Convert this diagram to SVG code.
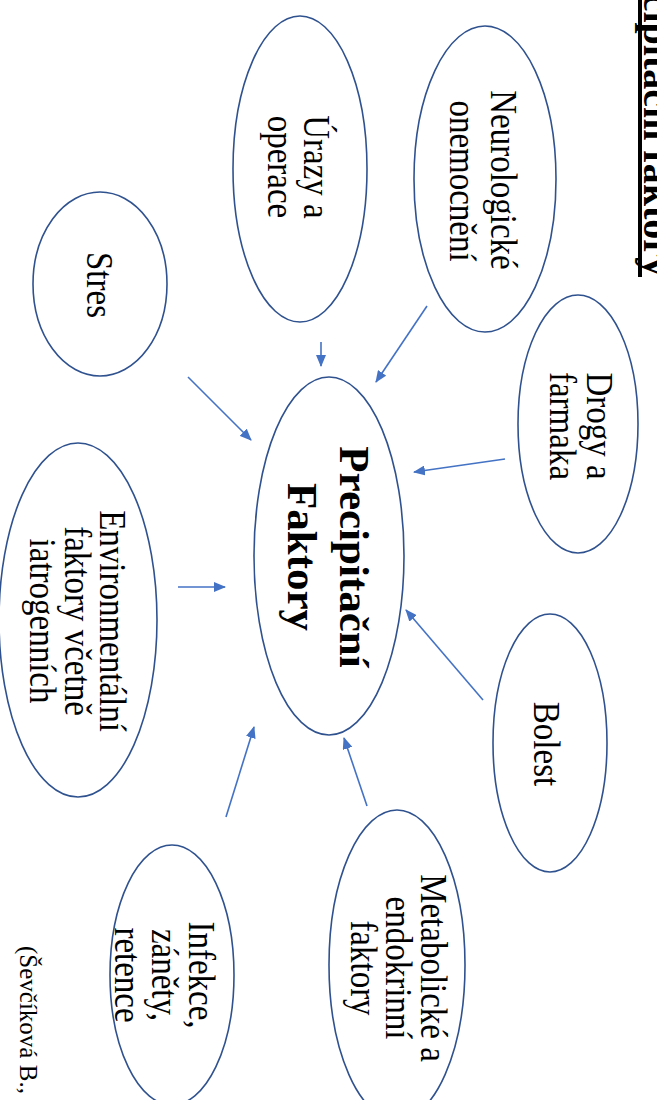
<svg xmlns="http://www.w3.org/2000/svg" width="657" height="1100" viewBox="0 0 657 1100">
<style>
.n{fill:#fff;stroke:#2F528F;stroke-width:1.6}
.t{font-family:"Liberation Serif","Times New Roman",serif;font-size:33px;fill:#000;text-anchor:middle}
.b{font-family:"Liberation Serif","Times New Roman",serif;font-size:43px;font-weight:bold;fill:#000;text-anchor:middle}
.c{stroke:#4472C4;stroke-width:1.6;fill:none;marker-end:url(#ah)}
</style>
<defs>
<marker id="ah" markerUnits="userSpaceOnUse" markerWidth="12" markerHeight="10" refX="11" refY="5" orient="auto">
<path d="M0,0 L12,5 L0,10 Z" fill="#4472C4"/>
</marker>
</defs>
<rect width="657" height="1100" fill="#fff"/>
<g id="title">
<text transform="translate(644,277) rotate(90)" font-family="Liberation Serif, serif" font-size="40" font-weight="bold" text-anchor="end">Precipitační faktory</text>
<rect x="638" y="0" width="4" height="277" fill="#000"/>
</g>
<g id="connectors">
<line class="c" x1="427" y1="306" x2="376" y2="382"/>
<line class="c" x1="321" y1="342" x2="321" y2="366"/>
<line class="c" x1="188" y1="377" x2="251" y2="440"/>
<line class="c" x1="505" y1="459" x2="414" y2="472"/>
<line class="c" x1="178" y1="587" x2="225" y2="587"/>
<line class="c" x1="483" y1="700" x2="406" y2="610"/>
<line class="c" x1="367" y1="806" x2="344" y2="738"/>
<line class="c" x1="226" y1="817" x2="254" y2="727"/>
</g>
<g id="center">
<ellipse class="n" cx="329" cy="556" rx="75" ry="179"/>
<text class="b" transform="translate(340,557) rotate(90)">Precipitační</text>
<text class="b" transform="translate(288,557) rotate(90)">Faktory</text>
</g>
<g id="neuro">
<ellipse class="n" cx="485" cy="179" rx="71" ry="153"/>
<text class="t" transform="translate(491,180) rotate(90) scale(1,1.12)">Neurologické</text>
<text class="t" transform="translate(450,181) rotate(90) scale(1,1.12)">onemocnění</text>
</g>
<g id="urazy">
<ellipse class="n" cx="300" cy="169" rx="67" ry="153"/>
<text class="t" transform="translate(304,167) rotate(90) scale(1,1.12)">Úrazy a</text>
<text class="t" transform="translate(268,167) rotate(90) scale(1,1.12)">operace</text>
</g>
<g id="stres">
<ellipse class="n" cx="100" cy="284" rx="67" ry="92"/>
<text class="t" transform="translate(87,285) rotate(90) scale(1,1.12)">Stres</text>
</g>
<g id="drogy">
<ellipse class="n" cx="578" cy="424" rx="60" ry="129"/>
<text class="t" transform="translate(587,426) rotate(90) scale(1,1.12)">Drogy a</text>
<text class="t" transform="translate(550,426) rotate(90) scale(1,1.12)">farmaka</text>
</g>
<g id="env">
<ellipse class="n" cx="78" cy="620" rx="79" ry="177"/>
<text class="t" transform="translate(100,621) rotate(90) scale(1,1.12)">Environmentální</text>
<text class="t" transform="translate(65,621) rotate(90) scale(1,1.12)">faktory včetně</text>
<text class="t" transform="translate(30,621) rotate(90) scale(1,1.12)">iatrogenních</text>
</g>
<g id="bolest">
<ellipse class="n" cx="550" cy="743" rx="57" ry="129"/>
<text class="t" transform="translate(534,744) rotate(90) scale(1,1.12)">Bolest</text>
</g>
<g id="metab">
<ellipse class="n" cx="397" cy="965" rx="68" ry="155"/>
<text class="t" transform="translate(421,968) rotate(90) scale(1,1.12)">Metabolické a</text>
<text class="t" transform="translate(386,968) rotate(90) scale(1,1.12)">endokrinní</text>
<text class="t" transform="translate(351,968) rotate(90) scale(1,1.12)">faktory</text>
</g>
<g id="infekce">
<ellipse class="n" cx="172" cy="975" rx="62" ry="130"/>
<text class="t" transform="translate(189,975) rotate(90) scale(1,1.12)">Infekce,</text>
<text class="t" transform="translate(152,975) rotate(90) scale(1,1.12)">záněty,</text>
<text class="t" transform="translate(115,975) rotate(90) scale(1,1.12)">retence</text>
</g>
<g id="citation">
<text transform="translate(20,946) rotate(90)" font-family="Liberation Serif, serif" font-size="25">(Ševčíková B.,</text>
</g>
</svg>
